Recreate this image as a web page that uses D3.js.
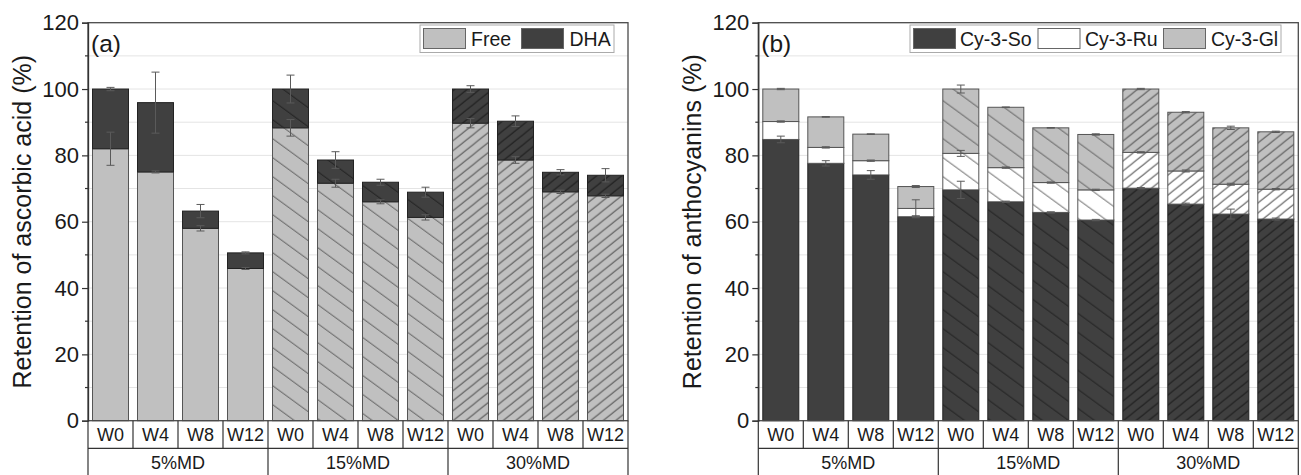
<!DOCTYPE html>
<html><head><meta charset="utf-8">
<script src="https://cdn.jsdelivr.net/npm/d3@7"></script>
<style>
html,body{margin:0;padding:0;background:#fff;}
svg{display:block;font-family:"Liberation Sans",Arial,sans-serif;}
</style></head>
<body><svg id="c" width="1301" height="475"></svg>
<script>
// ---------------- data ----------------
const groups = ["5%MD", "15%MD", "30%MD"];
const weeks = ["W0", "W4", "W8", "W12"];
const yTicks = [0, 20, 40, 60, 80, 100, 120];

// Panel (a): ascorbic acid
const seriesA = ["Free", "DHA"];
const freeVals = [82.0, 75.0, 58.0, 45.9, 88.3, 71.6, 66.0, 61.3, 89.7, 78.6, 69.0, 67.8];
const dhaVals  = [18.0, 20.9, 5.2, 4.7, 11.7, 7.0, 5.9, 7.6, 10.3, 11.7, 5.9, 6.2];
const freeErr  = [5.0, 0.3, 0.8, 0.3, 2.5, 1.2, 0.6, 0.8, 1.4, 1.0, 0.5, 0.5];
const dhaErr   = [0.5, 9.2, 2.0, 0.3, 4.2, 2.5, 0.9, 1.5, 1.0, 1.6, 0.8, 2.0];

// Panel (b): anthocyanins
const seriesB = ["Cy-3-So", "Cy-3-Ru", "Cy-3-Gl"];
const soVals = [84.8, 77.6, 74.1, 61.5, 69.6, 66.0, 62.8, 60.5, 70.1, 65.3, 62.3, 60.8];
const ruVals = [5.4, 4.8, 4.3, 2.5, 11.0, 10.3, 9.0, 9.1, 10.8, 10.0, 9.0, 9.0];
const glVals = [9.8, 9.2, 8.0, 6.6, 19.4, 18.2, 16.5, 16.7, 19.1, 17.7, 17.0, 17.3];
const soErr = [1.0, 0.8, 1.3, 0.3, 2.6, 0.2, 0.2, 0.2, 0.2, 0.3, 1.5, 0.3];
const ruErr = [0.2, 0.2, 0.2, 2.6, 0.9, 0.2, 0.2, 0.2, 0.2, 0.3, 0.3, 0.2];
const glErr = [0.2, 0.1, 0.1, 0.3, 1.2, 0.1, 0.1, 0.2, 0.2, 0.2, 0.5, 0.2];

// ---------------- styling ----------------
const DARK = "#404040", LIGHT = "#c0c0c0", WHITE = "#ffffff";
const FONT = "Liberation Sans, Arial, sans-serif";
const svg = d3.select("#c");
const defs = svg.append("defs");
const hatchOf = g => g === 0 ? "none" : (g === 1 ? "back" : "fwd");

function patternId(fill, hatch) {
  if (hatch === "none") return null;
  const id = "p_" + hatch + "_" + fill.replace("#", "");
  if (!defs.select("#" + id).empty()) return id;
  const line = fill === DARK ? "#1c1c1c" : "#555";
  let W, H, d;
  if (hatch === "back") { W = 26; H = 19;
    d = `M-2,${-2*H/W} L${W+2},${H+2*H/W} M${W-2},${-2*H/W} L${W+2},${2*H/W} M-2,${H-2*H/W} L2,${H+2*H/W}`;
  } else { W = 12.5; H = 10;
    d = `M-2,${H+2*H/W} L${W+2},${-2*H/W} M-2,${2*H/W} L2,${-2*H/W} M${W-2},${H+2*H/W} L${W+2},${H-2*H/W}`;
  }
  const p = defs.append("pattern").attr("id", id).attr("patternUnits", "userSpaceOnUse")
    .attr("width", W).attr("height", H);
  p.append("rect").attr("width", W).attr("height", H).attr("fill", fill);
  p.append("path").attr("d", d).attr("stroke", line).attr("stroke-width", 1).attr("fill", "none");
  return id;
}

function panel(opts) {
  const {left, top, width, height, segs, errs, colors, label, title, legend} = opts;
  const g = svg.append("g").attr("transform", `translate(${left},${top})`);
  const y = d3.scaleLinear().domain([0, 120]).range([height, 0]);
  const x = d3.scaleBand().domain(d3.range(12)).range([0, width]).paddingInner(0.2).paddingOuter(0.1);

  // grid
  g.append("g").selectAll("line").data(d3.range(10, 120, 10)).join("line")
    .attr("x1", 0).attr("x2", width).attr("y1", d => y(d)).attr("y2", d => y(d))
    .attr("stroke", "#e4e4e4").attr("stroke-width", 1);

  // stacked bars
  const table = d3.range(12).map(i => { const o = {i}; segs.forEach((s, k) => o[k] = s[i]); return o; });
  const stack = d3.stack().keys(segs.map((s, k) => k))(table);
  stack.forEach((layer, k) => {
    g.append("g").selectAll("rect").data(layer).join("rect")
      .attr("x", d => x(d.data.i)).attr("width", x.bandwidth())
      .attr("y", d => y(d[1])).attr("height", d => y(d[0]) - y(d[1]))
      .attr("fill", d => { const pid = patternId(colors[k], hatchOf(Math.floor(d.data.i / 4)));
        return pid ? `url(#${pid})` : colors[k]; })
      .attr("stroke", colors[k] === DARK ? "#222" : "#555").attr("stroke-width", 1);
  });
  // error bars
  stack.forEach((layer, k) => {
    const eg = g.append("g").attr("stroke", "#5a5a5a").attr("stroke-width", 1).attr("fill", "none");
    layer.forEach(d => {
      const cx = x(d.data.i) + x.bandwidth() / 2, e = errs[k][d.data.i];
      const y1 = y(d[1] + e), y2 = y(d[1] - e);
      eg.append("path").attr("d", `M${cx},${y1} L${cx},${y2} M${cx-4},${y1} L${cx+4},${y1} M${cx-4},${y2} L${cx+4},${y2}`);
    });
  });

  // frame
  g.append("rect").attr("x", 0).attr("y", 0).attr("width", width).attr("height", height)
    .attr("fill", "none").attr("stroke", "#4a4a4a").attr("stroke-width", 1.3);

  // y axis
  const ax = g.append("g").call(d3.axisLeft(y).tickValues(yTicks).tickSize(6).tickPadding(3));
  ax.attr("font-size", 22).attr("font-family", FONT);
  ax.select(".domain").attr("stroke", "#333").attr("stroke-width", 1.3);
  ax.selectAll(".tick line").attr("stroke", "#333").attr("stroke-width", 1.2);
  ax.selectAll(".tick text").attr("fill", "#1a1a1a");
  g.append("g").selectAll("line").data(d3.range(10, 120, 20)).join("line")
    .attr("x1", -3).attr("x2", 0).attr("y1", d => y(d)).attr("y2", d => y(d))
    .attr("stroke", "#333").attr("stroke-width", 1.2);

  // title
  g.append("text").attr("transform", `translate(${opts.titleX - left},${height / 2}) rotate(-90)`)
    .attr("text-anchor", "middle").attr("font-size", 25).attr("fill", "#1a1a1a").text(title);
  g.append("text").attr("x", 3).attr("y", 29).attr("font-size", 24.5).attr("fill", "#1a1a1a").text(label);

  // categorical x axis table
  const row1 = 27.6, row2 = 60;
  const xg = g.append("g").attr("transform", `translate(0,${height})`);
  xg.append("line").attr("x1", 0).attr("x2", width).attr("y1", row1).attr("y2", row1)
    .attr("stroke", "#333").attr("stroke-width", 1.2);
  const step = x.step();
  xg.selectAll("line.sep").data(d3.range(13)).join("line").attr("class", "sep")
    .attr("x1", d => d * step).attr("x2", d => d * step).attr("y1", 0)
    .attr("y2", d => d % 4 === 0 ? row2 : row1)
    .attr("stroke", "#333").attr("stroke-width", 1.2);
  xg.selectAll("text.wk").data(d3.range(12)).join("text").attr("class", "wk")
    .attr("x", d => x(d) + x.bandwidth() / 2).attr("y", row1 / 2).attr("dy", "0.36em")
    .attr("text-anchor", "middle").attr("font-size", 18).attr("fill", "#1a1a1a")
    .text(d => weeks[d % 4]);
  xg.selectAll("text.gp").data(groups).join("text").attr("class", "gp")
    .attr("x", (d, i) => (i * 4 + 2) * step).attr("y", row1 + 14.5).attr("dy", "0.36em")
    .attr("text-anchor", "middle").attr("font-size", 18).attr("fill", "#1a1a1a").text(d => d);

  // legend
  const lg = svg.append("g");
  lg.append("rect").attr("x", legend.x).attr("y", legend.y).attr("width", legend.w).attr("height", 27.5)
    .attr("fill", "#fff").attr("stroke", "#aaa").attr("stroke-width", 1);
  legend.items.forEach((it, k) => {
    lg.append("rect").attr("x", it.sx).attr("y", legend.y + 3.5).attr("width", 42).attr("height", 20)
      .attr("fill", colors[k]).attr("stroke", "#666").attr("stroke-width", 1);
    lg.append("text").attr("x", it.tx).attr("y", legend.y + 14).attr("dy", "0.36em")
      .attr("font-size", 19.5).attr("fill", "#1a1a1a").text(it.name);
  });
}

panel({left: 88, top: 22.7, width: 540, height: 398,
  segs: [freeVals, dhaVals], errs: [freeErr, dhaErr], colors: [LIGHT, DARK],
  label: "(a)", title: "Retention of ascorbic acid (%)", titleX: 31,
  legend: {x: 420, y: 25, w: 194, items: [
    {name: seriesA[0], sx: 423.5, tx: 471}, {name: seriesA[1], sx: 521.5, tx: 569.5}]}});

panel({left: 758.3, top: 22.7, width: 540, height: 398,
  segs: [soVals, ruVals, glVals], errs: [soErr, ruErr, glErr], colors: [DARK, WHITE, LIGHT],
  label: "(b)", title: "Retention of anthocyanins (%)", titleX: 701,
  legend: {x: 910, y: 25, w: 371, items: [
    {name: seriesB[0], sx: 913.5, tx: 960}, {name: seriesB[1], sx: 1038, tx: 1085},
    {name: seriesB[2], sx: 1163.5, tx: 1211}]}});
</script></body></html>
